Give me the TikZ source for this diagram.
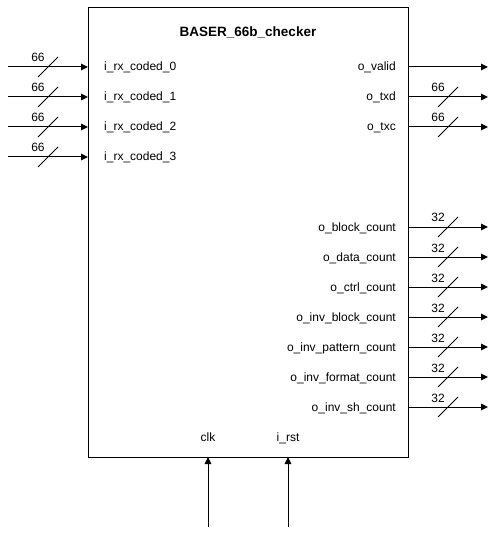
\documentclass[tikz,border=0pt]{standalone}
\usepackage{fontspec}
\setmainfont{Liberation Sans}
\usetikzlibrary{arrows.meta}
\begin{document}
\begin{tikzpicture}[x=1pt,y=-1pt,
  wire/.style={line width=1pt,-{Triangle[length=7pt,width=6.5pt]}},
  lbl/.style={font=\fontsize{12}{14}\selectfont,inner sep=0pt},
  buslbl/.style={font=\fontsize{12}{14}\selectfont,inner sep=0pt,anchor=base},
  slash/.style={line width=0.9pt}]
\useasboundingbox (0,0) rectangle (498,537);
\node[draw,line width=1pt,minimum width=320pt,minimum height=450pt,anchor=north west,inner sep=0pt] (box) at (88,7) {};
\node[font=\fontsize{13.5}{15}\selectfont\bfseries,inner sep=0pt,anchor=base] (title) at (248,37) {BASER\_66b\_checker};
% inputs
\foreach \i/\y in {0/67,1/97,2/127,3/157}{
  \coordinate (in\i) at (8,\y);
  \coordinate (ib\i) at (88,\y);
  \draw[wire] (in\i) -- (ib\i);
  \draw[slash] (38,\y+10) -- (58,\y-10);
  \node[buslbl] (inw\i) at (38,\y-5) {66};
  \node[lbl,anchor=base west] (inl\i) at (104,\y+4) {i\_rx\_coded\_\i};
}
% outputs
\coordinate (ov0) at (408,67);
\coordinate (ov1) at (488,67);
\draw[wire] (ov0) -- (ov1);
\node[lbl,anchor=base east] (ovl) at (396,71) {o\_valid};
\foreach \n/\y in {txd/97,txc/127}{
  \coordinate (o\n0) at (408,\y);
  \coordinate (o\n1) at (488,\y);
  \draw[wire] (o\n0) -- (o\n1);
  \draw[slash] (438,\y+10) -- (458,\y-10);
  \node[buslbl] (o\n w) at (438,\y-5) {66};
  \node[lbl,anchor=base east] (o\n l) at (396,\y+4) {o\_\n};
}
\foreach \n/\y in {block\_count/227,data\_count/257,ctrl\_count/287,inv\_block\_count/317,inv\_pattern\_count/347,inv\_format\_count/377,inv\_sh\_count/407}{
  \coordinate (a) at (408,\y);
  \coordinate (b) at (488,\y);
  \draw[wire] (a) -- (b);
  \draw[slash] (438,\y+10) -- (458,\y-10);
  \node[buslbl] at (438,\y-5) {32};
  \node[lbl,anchor=base east] at (396,\y+4) {o\_\n};
}
% bottom
\coordinate (clk0) at (208,527);
\coordinate (clk1) at (208,457);
\draw[wire] (clk0) -- (clk1);
\node[lbl,anchor=base] (clkl) at (208,441) {clk};
\coordinate (rst0) at (288,527);
\coordinate (rst1) at (288,457);
\draw[wire] (rst0) -- (rst1);
\node[lbl,anchor=base] (rstl) at (288,441) {i\_rst};
\end{tikzpicture}
\end{document}
